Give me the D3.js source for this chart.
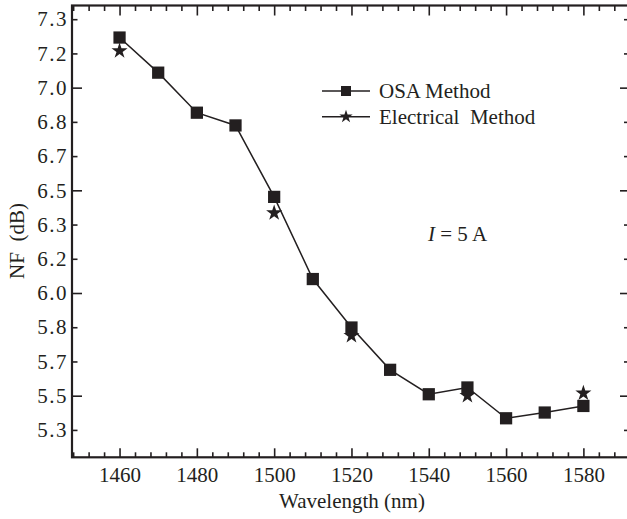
<!DOCTYPE html>
<html><head><meta charset="utf-8">
<script src="https://cdn.jsdelivr.net/npm/d3@7"></script>
<style>
html,body{margin:0;padding:0;background:#fff;}
svg{display:block;}
text{font-family:"Liberation Serif","Times New Roman",serif;fill:#231f20;white-space:pre;}
</style></head><body>
<svg id="c" width="627" height="519"></svg>
<script>
// ---- data ----
const wavelengths = [1460,1470,1480,1490,1500,1510,1520,1530,1540,1550,1560,1570,1580];
const osaNF = [7.244,7.073,6.878,6.816,6.468,6.068,5.832,5.626,5.507,5.540,5.390,5.418,5.450];
const elecWavelengths = [1460,1500,1520,1550,1580];
const elecNF = [7.179,6.390,5.792,5.500,5.512];
const xTickValues = [1460,1480,1500,1520,1540,1560,1580];
const yTickValues = [32,33,34,35,36,37,38,39,40,41,42,43,44].map(k=>k/6);
const yTickLabels = ["5.3","5.5","5.7","5.8","6.0","6.2","6.3","6.5","6.7","6.8","7.0","7.2","7.3"];
const seriesNames = ["OSA Method","Electrical  Method"];
const xTitle = "Wavelength (nm)";
const yTitle = "NF  (dB)";

// ---- layout ----
const L=72, R=629, T=5.5, B=457.3;
const svg=d3.select("#c");
const ink="#231f20";
const x=d3.scaleLinear().domain([1447.7,1591.8]).range([L,R]);
const y=d3.scaleLinear().domain([5.2,7.4]).range([B,T]);
const FS=21;

const xMinor=d3.range(1448,1593,4).filter(v=>!xTickValues.includes(v));
const yMajor=yTickValues.filter((v,i)=>i%3===1);
const yMinor=yTickValues.filter((v,i)=>i%3!==1);

function style(g){g.select(".domain").remove();g.selectAll("line").attr("stroke",ink).attr("stroke-width",1.6);}

// bottom axis
svg.append("g").attr("transform",`translate(0,${B})`)
 .call(d3.axisBottom(x).tickValues(xTickValues).tickSize(-9).tickPadding(10).tickFormat(d3.format("d")))
 .call(style).call(g=>g.selectAll("text").attr("font-size",FS).attr("font-family","Liberation Serif").attr("fill",ink));
svg.append("g").attr("transform",`translate(0,${B})`)
 .call(d3.axisBottom(x).tickValues(xMinor).tickSize(-5).tickFormat(""))
 .call(style);
// top axis
svg.append("g").attr("transform",`translate(0,${T})`)
 .call(d3.axisTop(x).tickValues(xTickValues).tickSize(-10).tickFormat(""))
 .call(style);
svg.append("g").attr("transform",`translate(0,${T})`)
 .call(d3.axisTop(x).tickValues(xMinor).tickSize(-5.5).tickFormat(""))
 .call(style);
// left axis
svg.append("g").attr("transform",`translate(${L},0)`)
 .call(d3.axisLeft(y).tickValues(yTickValues).tickSize(0).tickPadding(4).tickFormat((d,i)=>yTickLabels[i]))
 .call(style).call(g=>g.selectAll("text").attr("font-size",FS).attr("font-family","Liberation Serif").attr("fill",ink).attr("letter-spacing","1.5px"));
svg.append("g").attr("transform",`translate(${L},0)`)
 .call(d3.axisLeft(y).tickValues(yMajor).tickSize(-10).tickFormat(""))
 .call(style);
svg.append("g").attr("transform",`translate(${L},0)`)
 .call(d3.axisLeft(y).tickValues(yMinor).tickSize(-5.5).tickFormat(""))
 .call(style);
// right axis
svg.append("g").attr("transform",`translate(${R},0)`)
 .call(d3.axisRight(y).tickValues(yMajor).tickSize(-9).tickFormat(""))
 .call(style);
svg.append("g").attr("transform",`translate(${R},0)`)
 .call(d3.axisRight(y).tickValues(yMinor).tickSize(-5).tickFormat(""))
 .call(style);

// frame
svg.append("rect").attr("x",L).attr("y",T).attr("width",R-L).attr("height",B-T)
 .attr("fill","none").attr("stroke",ink).attr("stroke-width",2.2);

// line
const osa=wavelengths.map((w,i)=>({w,v:osaNF[i]}));
const elec=elecWavelengths.map((w,i)=>({w,v:elecNF[i]}));
svg.append("path").datum(osa)
 .attr("d",d3.line().x(d=>x(d.w)).y(d=>y(d.v)))
 .attr("fill","none").attr("stroke",ink).attr("stroke-width",1.5);
const sq=d3.symbol().type(d3.symbolSquare).size(150);
const st=d3.symbol().type(d3.symbolStar).size(80);
svg.selectAll(".sq").data(osa).join("path").attr("class","sq")
 .attr("d",sq).attr("transform",d=>`translate(${x(d.w)},${y(d.v)})`).attr("fill",ink);
svg.selectAll(".st").data(elec).join("path").attr("class","st")
 .attr("d",st).attr("transform",d=>`translate(${x(d.w)},${y(d.v)})`).attr("fill",ink);

// legend
const lg=svg.append("g");
const legendSyms=[d3.symbol().type(d3.symbolSquare).size(100),d3.symbol().type(d3.symbolStar).size(55)];
[[91,97.5],[116.7,124]].forEach((r,i)=>{
  lg.append("line").attr("x1",322).attr("x2",370).attr("y1",r[0]).attr("y2",r[0]).attr("stroke",ink).attr("stroke-width",1.5);
  lg.append("path").attr("d",legendSyms[i]()).attr("transform",`translate(346,${r[0]})`).attr("fill",ink);
  lg.append("text").attr("x",379).attr("y",r[1]).attr("font-size",FS).text(seriesNames[i]);
});

// annotation
const ann=svg.append("text").attr("x",428).attr("y",240.5).attr("font-size",FS);
ann.append("tspan").attr("font-style","italic").text("I");
ann.append("tspan").text(" = 5 A");

// axis titles
svg.append("text").attr("x",(278+426)/2).attr("y",508).attr("text-anchor","middle").attr("font-size",FS).text(xTitle);
svg.append("text").attr("transform","translate(24,241) rotate(-90)").attr("text-anchor","middle").attr("font-size",FS).text(yTitle);
</script>
</body></html>
